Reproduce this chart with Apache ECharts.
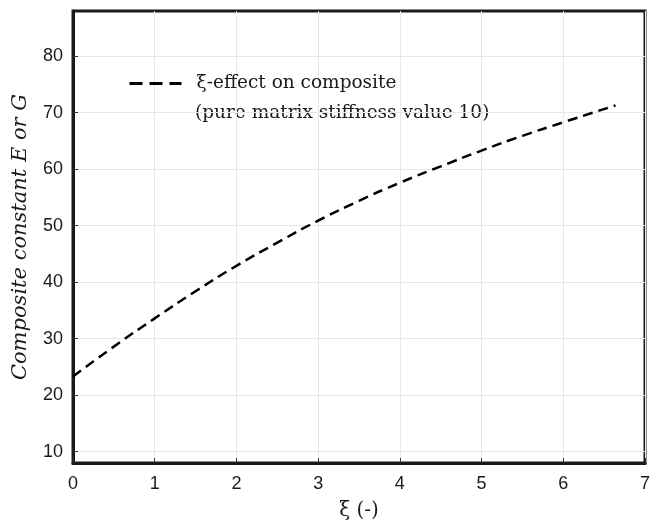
<!DOCTYPE html>
<html>
<head>
<meta charset="utf-8">
<script src="https://cdn.jsdelivr.net/npm/echarts@6/dist/echarts.min.js"></script>
<style>
  html, body { margin: 0; padding: 0; background: #fff; }
</style>
</head>
<body>
<div id="xiEffect" style="width:653px;height:526px;"></div>
<script>
  // values
  var xiValues = [0, 0.5, 1, 1.5, 2, 2.5, 3, 3.5, 4, 4.5, 5, 5.5, 6, 6.64]
  var compositeValues = [23.3, 28.6, 33.6, 38.4, 42.9, 47.0, 50.9, 54.4, 57.6, 60.5, 63.3, 65.9, 68.3, 71.3]
  var yTicks = [10, 20, 30, 40, 50, 60, 70, 80]
  var seriesName = 'ξ-effect on composite'
  var noteText = '(pure matrix stiffness value 10)'

  var data = []
  for (var i = 0; i < xiValues.length; i++) {
    data.push([xiValues[i], compositeValues[i]])
  }

  var tickStyle = { fontFamily: 'Liberation Sans, Arial, sans-serif', fontSize: 18, color: '#1a1a1a' }

  var option = {
    animation: false,
    backgroundColor: '#fff',
    legend: {
      data: [seriesName],
      left: 128,
      top: 74,
      padding: 0,
      itemWidth: 52,
      itemHeight: 20,
      itemStyle: { opacity: 0 },
      lineStyle: { type: [13, 7], width: 3 },
      textStyle: {
        fontFamily: 'DejaVu Serif, Liberation Serif, serif',
        fontSize: 18.5,
        color: '#1a1a1a',
        padding: [0, 0, 0, 10]
      }
    },
    graphic: [{
      type: 'text',
      left: 195,
      top: 104,
      style: {
        text: noteText,
        font: '18.5px "DejaVu Serif", "Liberation Serif", serif',
        fill: '#1a1a1a'
      }
    }],
    grid: {
      left: 73,
      right: 6,
      top: 11,
      bottom: 61,
      show: true,
      borderColor: '#1a1a1a',
      borderWidth: 3
    },
    xAxis: {
      type: 'value',
      min: 0,
      max: 7,
      interval: 1,
      name: 'ξ (-)',
      nameLocation: 'middle',
      nameGap: 38,
      nameTextStyle: { fontFamily: 'DejaVu Serif, Liberation Serif, serif', fontSize: 20, color: '#1a1a1a' },
      axisLine: { show: true, lineStyle: { color: '#1a1a1a', width: 3 } },
      axisTick: { show: true, inside: true, length: 5, lineStyle: { color: '#333' } },
      axisLabel: Object.assign({ margin: 12 }, tickStyle),
      splitLine: { show: true, lineStyle: { color: '#e6e6e6', width: 1 } }
    },
    yAxis: {
      type: 'value',
      min: 8,
      max: 88,
      name: 'Composite constant E or G',
      nameLocation: 'middle',
      nameGap: 42,
      nameTextStyle: { fontFamily: 'DejaVu Serif, Liberation Serif, serif', fontStyle: 'italic', fontSize: 21, color: '#1a1a1a' },
      axisLine: { show: true, lineStyle: { color: '#1a1a1a', width: 3 } },
      axisTick: { show: true, inside: true, length: 5, customValues: yTicks, lineStyle: { color: '#333' } },
      axisLabel: Object.assign({ margin: 10, customValues: yTicks }, tickStyle),
      splitLine: { show: true, lineStyle: { color: '#e6e6e6', width: 1 } }
    },
    series: [
      {
        name: seriesName,
        type: 'line',
        smooth: true,
        symbol: 'none',
        data: data,
        color: '#000',
        lineStyle: { color: '#000', width: 2.5, type: [10, 6] }
      }
    ]
  }

  var chart = echarts.init(document.getElementById('xiEffect'))
  chart.setOption(option)
</script>
</body>
</html>
